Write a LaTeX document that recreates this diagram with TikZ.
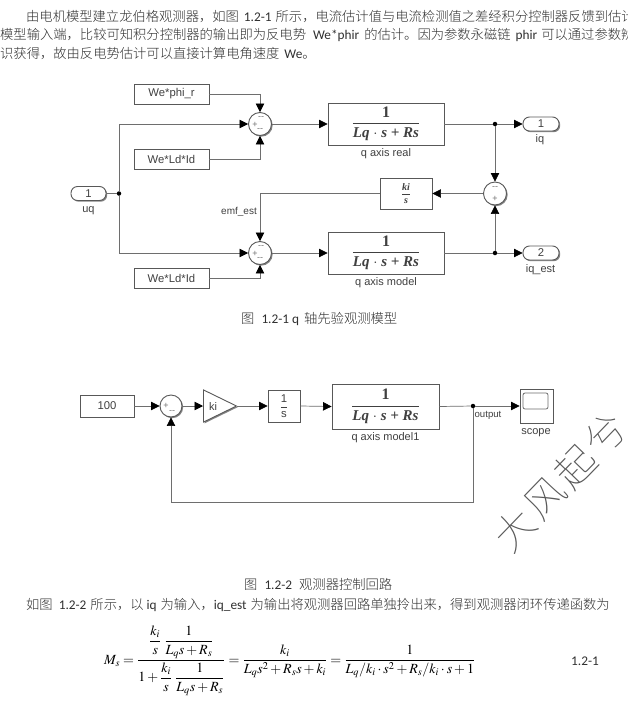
\documentclass[tikz,border=0pt]{standalone}
\usepackage{amsmath}
\usepackage{mathptmx}
\usepackage{fontspec}
\setmainfont{Carlito}
\newfontfamily\zhf{Noto Sans CJK SC Light}
\newfontfamily\zht{Noto Sans CJK SC Thin}
\newfontfamily\arf{Liberation Sans}
\newfontfamily\tmf{Liberation Serif}
\usetikzlibrary{arrows.meta,shapes.geometric,shadows,calc}
\definecolor{wire}{HTML}{6E6E6E}
\definecolor{lab}{HTML}{404040}
\definecolor{bodyc}{HTML}{303030}
\newcommand{\zh}[1]{{\zhf #1}}
\newcommand{\gp}[1]{\hspace*{#1pt}}
\newcommand{\tfb}{{\fontsize{15}{18}\selectfont\ensuremath{\genfrac{}{}{1pt}{0}{\mbox{\tmf\bfseries\fontsize{16}{18}\selectfont 1}}{\mbox{\tmf\bfseries\itshape Lq $\boldsymbol{\cdot}$ s + Rs}}}}}
\newcommand{\stdn}{\rule[-2.5pt]{0pt}{13pt}}
\tikzset{
  x=1pt,y=-1pt,
  wire/.style={draw=wire,line width=0.7pt},
  arr/.style={wire,-{Triangle[length=8.5pt,width=8.5pt,fill=black,color=black]}},
  blk/.style={draw=wire!80!black,line width=0.9pt,fill=white,inner sep=0pt,text=lab,
     font=\arf\fontsize{11.3}{13}\selectfont,
     drop shadow={shadow xshift=1.2pt,shadow yshift=-1.2pt,fill=black!60,opacity=0.8}},
  port/.style={blk,rounded corners=6.5pt},
  sumb/.style={blk,circle,minimum size=23pt},
  dot/.style={circle,fill=black,inner sep=0pt,minimum size=4.5pt},
  lbl/.style={inner sep=0pt,text=lab,font=\arf\fontsize{11}{13}\selectfont},
  sgn/.style={inner sep=0pt,text=black!55,font=\arf\fontsize{9}{10}\selectfont},
  para/.style={anchor=base west,inner sep=0pt,text=bodyc,font=\fontsize{13.3}{16}\selectfont},
}
\begin{document}
\begin{tikzpicture}
\useasboundingbox[fill=white] (0,0) rectangle (627,702);
\clip (0,0) rectangle (627,702);
% paragraph
\node[para] (p1) at (26,21) {\zh{由电机模型建立龙伯格观测器，如图}\gp{5}1.2-1\gp{4}\zh{所示，电流估计值与电流检测值之差经积分控制器反馈到估计}};
\node[para] (p2) at (0,39.5) {\zh{模型输入端，比较可知积分控制器的输出即为反电势}\gp{7}We*phir\gp{5}\zh{的估计。因为参数永磁链}\gp{5}phir\gp{4}\zh{可以通过参数辨}};
\node[para] (p3) at (0,58) {\zh{识获得，故由反电势估计可以直接计算电角速度}\gp{5}We\zh{。}};
% diagram 1
\node[blk,minimum width=75pt,minimum height=20pt] (wphi) at (171.5,94) {We*phi\_r};
\node[blk,minimum width=75pt,minimum height=20pt] (wld1) at (171.5,159) {We*Ld*Id};
\node[blk,minimum width=75pt,minimum height=20pt] (wld2) at (171.5,278) {We*Ld*Id};
\node[port,minimum width=35pt,minimum height=14pt] (uq) at (88.5,193.5) {1};
\node[lbl] (uql) at (88.5,211) {uq};
\node[dot] (j1) at (119,193.5) {};
\node[sumb] (s1) at (260,124) {};
\node[sumb] (s2) at (260,253) {};
\node[sumb] (s3) at (495,193.5) {};
\node[blk,minimum width=116pt,minimum height=42pt] (qr) at (386,124) {\tfb};
\node[lbl] (qrl) at (386,154) {q axis real};
\node[blk,minimum width=116pt,minimum height=42pt] (qm) at (386,253) {\tfb};
\node[lbl] (qml) at (386,283) {q axis model};
\node[blk,minimum width=52pt,minimum height=31pt] (kis) at (406,193.5) {\fontsize{10}{11}\selectfont$\genfrac{}{}{0.5pt}{0}{\mbox{\tmf\bfseries\itshape ki}}{\mbox{\tmf\bfseries\itshape s}}$};
\node[dot] (j2) at (495,124) {};
\node[dot] (j3) at (495,253) {};
\node[port,minimum width=36pt,minimum height=14pt] (o1) at (541,124) {1};
\node[lbl] (o1l) at (540,139.5) {iq};
\node[port,minimum width=36pt,minimum height=14pt] (o2) at (541,253) {2};
\node[lbl] (o2l) at (540.5,269.5) {iq\_est};
\node[lbl,font=\arf\fontsize{10}{12}\selectfont] (emf) at (239,211.5) {emf\_est};
\coordinate (ce) at (260,193.5);
% signs
\node[sgn] (a1) at (255,125) {+};
\node[sgn] (a2) at (261,118) {--};
\node[sgn] (a3) at (260,130) {--};
\node[sgn] (b1) at (255,254) {+};
\node[sgn] (b2) at (261,247) {--};
\node[sgn] (b3) at (260,259) {--};
\node[sgn] (c1) at (495,188) {--};
\node[sgn] (c2) at (495,199) {+};
% wires
\draw[arr] (wphi.east) -| (s1.north);
\draw[arr] (wld1.east) -| (s1.south);
\draw[arr] (wld2.east) -| (s2.south);
\draw[wire] (uq.east) -- (j1);
\draw[arr] (j1) |- (s1.west);
\draw[arr] (j1) |- (s2.west);
\draw[arr] (s1.east) -- (qr.west);
\draw[arr] (s2.east) -- (qm.west);
\draw[wire] (qr.east) -- (j2);
\draw[wire] (qm.east) -- (j3);
\draw[arr] (j2) -- (o1.west);
\draw[arr] (j3) -- (o2.west);
\draw[arr] (j2) -- (s3.north);
\draw[arr] (j3) -- (s3.south);
\draw[arr] (s3.west) -- (kis.east);
\draw[arr] (kis.west) -- (ce) -- (s2.north);
% captions
\node[para] (c121) at (241,323) {\zh{图}\gp{7}1.2-1\gp{3}q\gp{5}\zh{轴先验观测模型}};
% diagram 2
\node[blk,minimum width=54pt,minimum height=22pt] (k100) at (107,406) {100};
\node[sumb,minimum size=22pt] (s4) at (171,406) {};
\node[sgn] (d1) at (166,406) {+};
\node[sgn] (d2) at (172,412) {--};
\node[blk,isosceles triangle,isosceles triangle apex angle=52,minimum height=33pt,minimum width=32pt,anchor=west,shape border rotate=0,align=left] (gain) at (203,406) {};
\node[lbl] (gl) at (213,406.5) {ki};
\node[blk,minimum width=32pt,minimum height=32pt] (int) at (284,406) {$\genfrac{}{}{0.5pt}{0}{\mbox{\arf 1}}{\mbox{\arf s}}$};
\node[blk,minimum width=107pt,minimum height=45pt] (qm1) at (385.5,406.5) {\tfb};
\node[lbl] (qm1l) at (385.5,438) {q axis model1};
\node[dot] (j4) at (473,406) {};
\node[lbl,font=\arf\fontsize{9.6}{11}\selectfont] (outl) at (488,415) {output};
\node[blk,minimum width=33pt,minimum height=34pt] (sc) at (536.5,406) {};
\node[draw=wire,line width=0.8pt,rounded corners=2pt,fill=white,minimum width=25pt,minimum height=16pt,inner sep=0pt] (scr) at (535.5,401) {};
\node[lbl] (scl) at (536,433) {scope};
\coordinate (fb) at (473,502);
\coordinate (fc) at (171,502);
\draw[arr] (k100.east) -- (s4.west);
\draw[arr] (s4.east) -- (gain.west);
\draw[arr] (gain.east) -- (int.west);
\draw[arr] (int.east) -- (qm1.west);
\draw[wire] (qm1.east) -- (j4);
\draw[arr] (j4) -- (sc.west);
\draw[arr] (j4) -- (fb) -- (fc) -- (s4.south);
% watermark
\node[inner sep=0pt,rotate=46,text=black!65,font=\zht\fontsize{40}{44}\selectfont] (wm) at (560,482) {\addfontfeature{LetterSpace=10}大风起兮};
% caption 2 and sentence
\node[para] (c122) at (244,589) {\zh{图}\gp{7}1.2-2\gp{7}\zh{观测器控制回路}};
\node[para] (p4) at (26,609) {\zh{如图}\gp{6}1.2-2\gp{4}\zh{所示，以}\gp{3}iq\gp{4}\zh{为输入，}iq\_est\gp{4}\zh{为输出将观测器回路单独拎出来，得到观测器闭环传递函数为}};
% equation
\node[inner sep=0pt,anchor=west,font=\fontsize{14}{17}\selectfont] (eq) at (104,660.5) {$M_s=\dfrac{\dfrac{k_i}{s\stdn}\;\dfrac{1}{L_q s+R_s\stdn}}{1+\dfrac{k_i}{s\stdn}\;\dfrac{1}{L_q s+R_s\stdn}}=\dfrac{k_i}{L_q s^2+R_s s+k_i}=\dfrac{1}{L_q/k_i\cdot s^2+R_s/k_i\cdot s+1}$};
\node[para] (eqn) at (571,665) {1.2-1};
\end{tikzpicture}
\end{document}
